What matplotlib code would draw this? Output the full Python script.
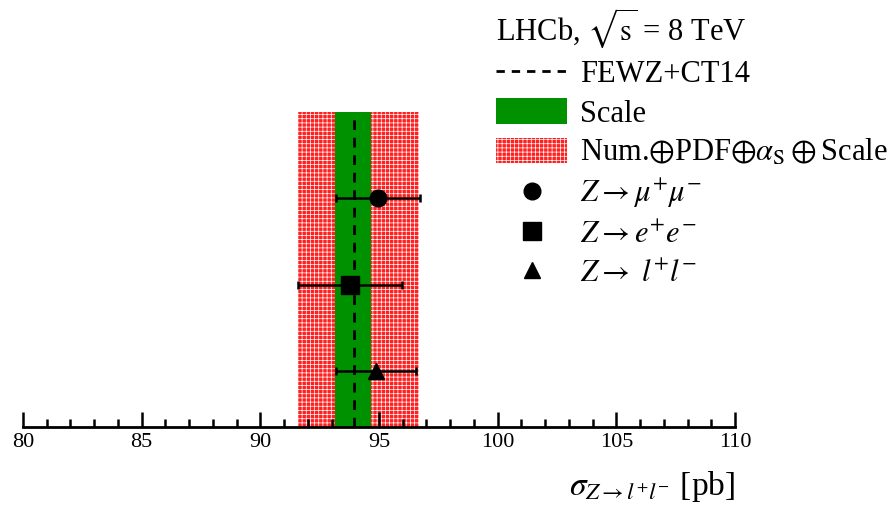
import numpy as np
import matplotlib
matplotlib.use("Agg")
import matplotlib.pyplot as plt
from matplotlib.lines import Line2D
from matplotlib.patches import Patch
from matplotlib.ticker import MultipleLocator

plt.rcParams['font.family'] = ['Liberation Serif', 'DejaVu Serif']
plt.rcParams['mathtext.fontset'] = 'stix'
plt.rcParams['hatch.linewidth'] = 0.5

# theory prediction (FEWZ+CT14)
theory_central = 93.95
scale_band = [93.15, 94.67]
total_band = [91.6, 96.7]

# LHCb measurements, top to bottom
meas_labels = [r'$Z\rightarrow\mu^{+}\mu^{-}$', r'$Z\rightarrow e^{+}e^{-}$', r'$Z\rightarrow\ l^{+}l^{-}$']
meas_values = [94.96, 93.78, 94.88]
meas_errors = [1.77, 2.2, 1.7]
meas_markers = ['o', 's', '^']
meas_sizes = [12, 13, 11]
meas_rows = [3, 2, 1]

RED = '#ff2020'
GREEN = '#009100'

fig = plt.figure(figsize=(8.92, 5.13), dpi=100)
ax = fig.add_axes([23/892, 86/513, 712/892, 315/513])
ax.set_xlim(80, 110)
ax.set_ylim(0.35, 4.0)

ax.axvspan(total_band[0], total_band[1], facecolor=RED, edgecolor='white',
           hatch='++++', linewidth=0, zorder=1)
ax.axvspan(scale_band[0], scale_band[1], facecolor=GREEN, linewidth=0, zorder=2)
ax.axvline(theory_central, color='black', lw=2, ls=(0, (3.5, 2.8)), zorder=3)

for v, e, m, s, r in zip(meas_values, meas_errors, meas_markers, meas_sizes, meas_rows):
    ax.errorbar(v, r, xerr=e, fmt=m, color='black', ms=s, lw=1.8,
                capsize=3, capthick=1.8, zorder=4)

for side in ['top', 'left', 'right']:
    ax.spines[side].set_visible(False)
ax.spines['bottom'].set_linewidth(2)
ax.set_yticks([])
ax.xaxis.set_major_locator(MultipleLocator(5))
ax.xaxis.set_minor_locator(MultipleLocator(1))
ax.tick_params(axis='x', which='major', direction='in', length=11, width=1.8,
               labelsize=16, pad=4)
ax.tick_params(axis='x', which='minor', direction='in', length=5.5, width=1.8)

fig.text(735/892, 1 - 487/513, r'$\sigma_{Z\rightarrow l^{+}l^{-}}$ [pb]',
         ha='right', va='center', fontsize=24)

handles = [Line2D([], [], color='black', lw=2, ls=(0, (3, 2.5))),
           Patch(facecolor=GREEN, edgecolor='none'),
           Patch(facecolor=RED, edgecolor='white', hatch='++++', lw=0)]
labels = ['FEWZ+CT14', 'Scale', r'Num.$\oplus$PDF$\oplus\alpha_{\rm S}\oplus$Scale']
for m, s, lab in zip(meas_markers, meas_sizes, meas_labels):
    handles.append(Line2D([], [], color='black', marker=m, ls='none', ms=s))
    labels.append(lab)

leg = fig.legend(handles, labels, loc='upper right', bbox_to_anchor=(888/892, 1 - 6/513),
                 frameon=False, fontsize=22, title=r'LHCb, $\sqrt{\rm s}$ = 8 TeV',
                 title_fontsize=22, alignment='left', handlelength=2.3,
                 handleheight=0.9, labelspacing=0.3, handletextpad=0.45,
                 borderaxespad=0, borderpad=0)

fig.savefig('out.png', dpi=100)
